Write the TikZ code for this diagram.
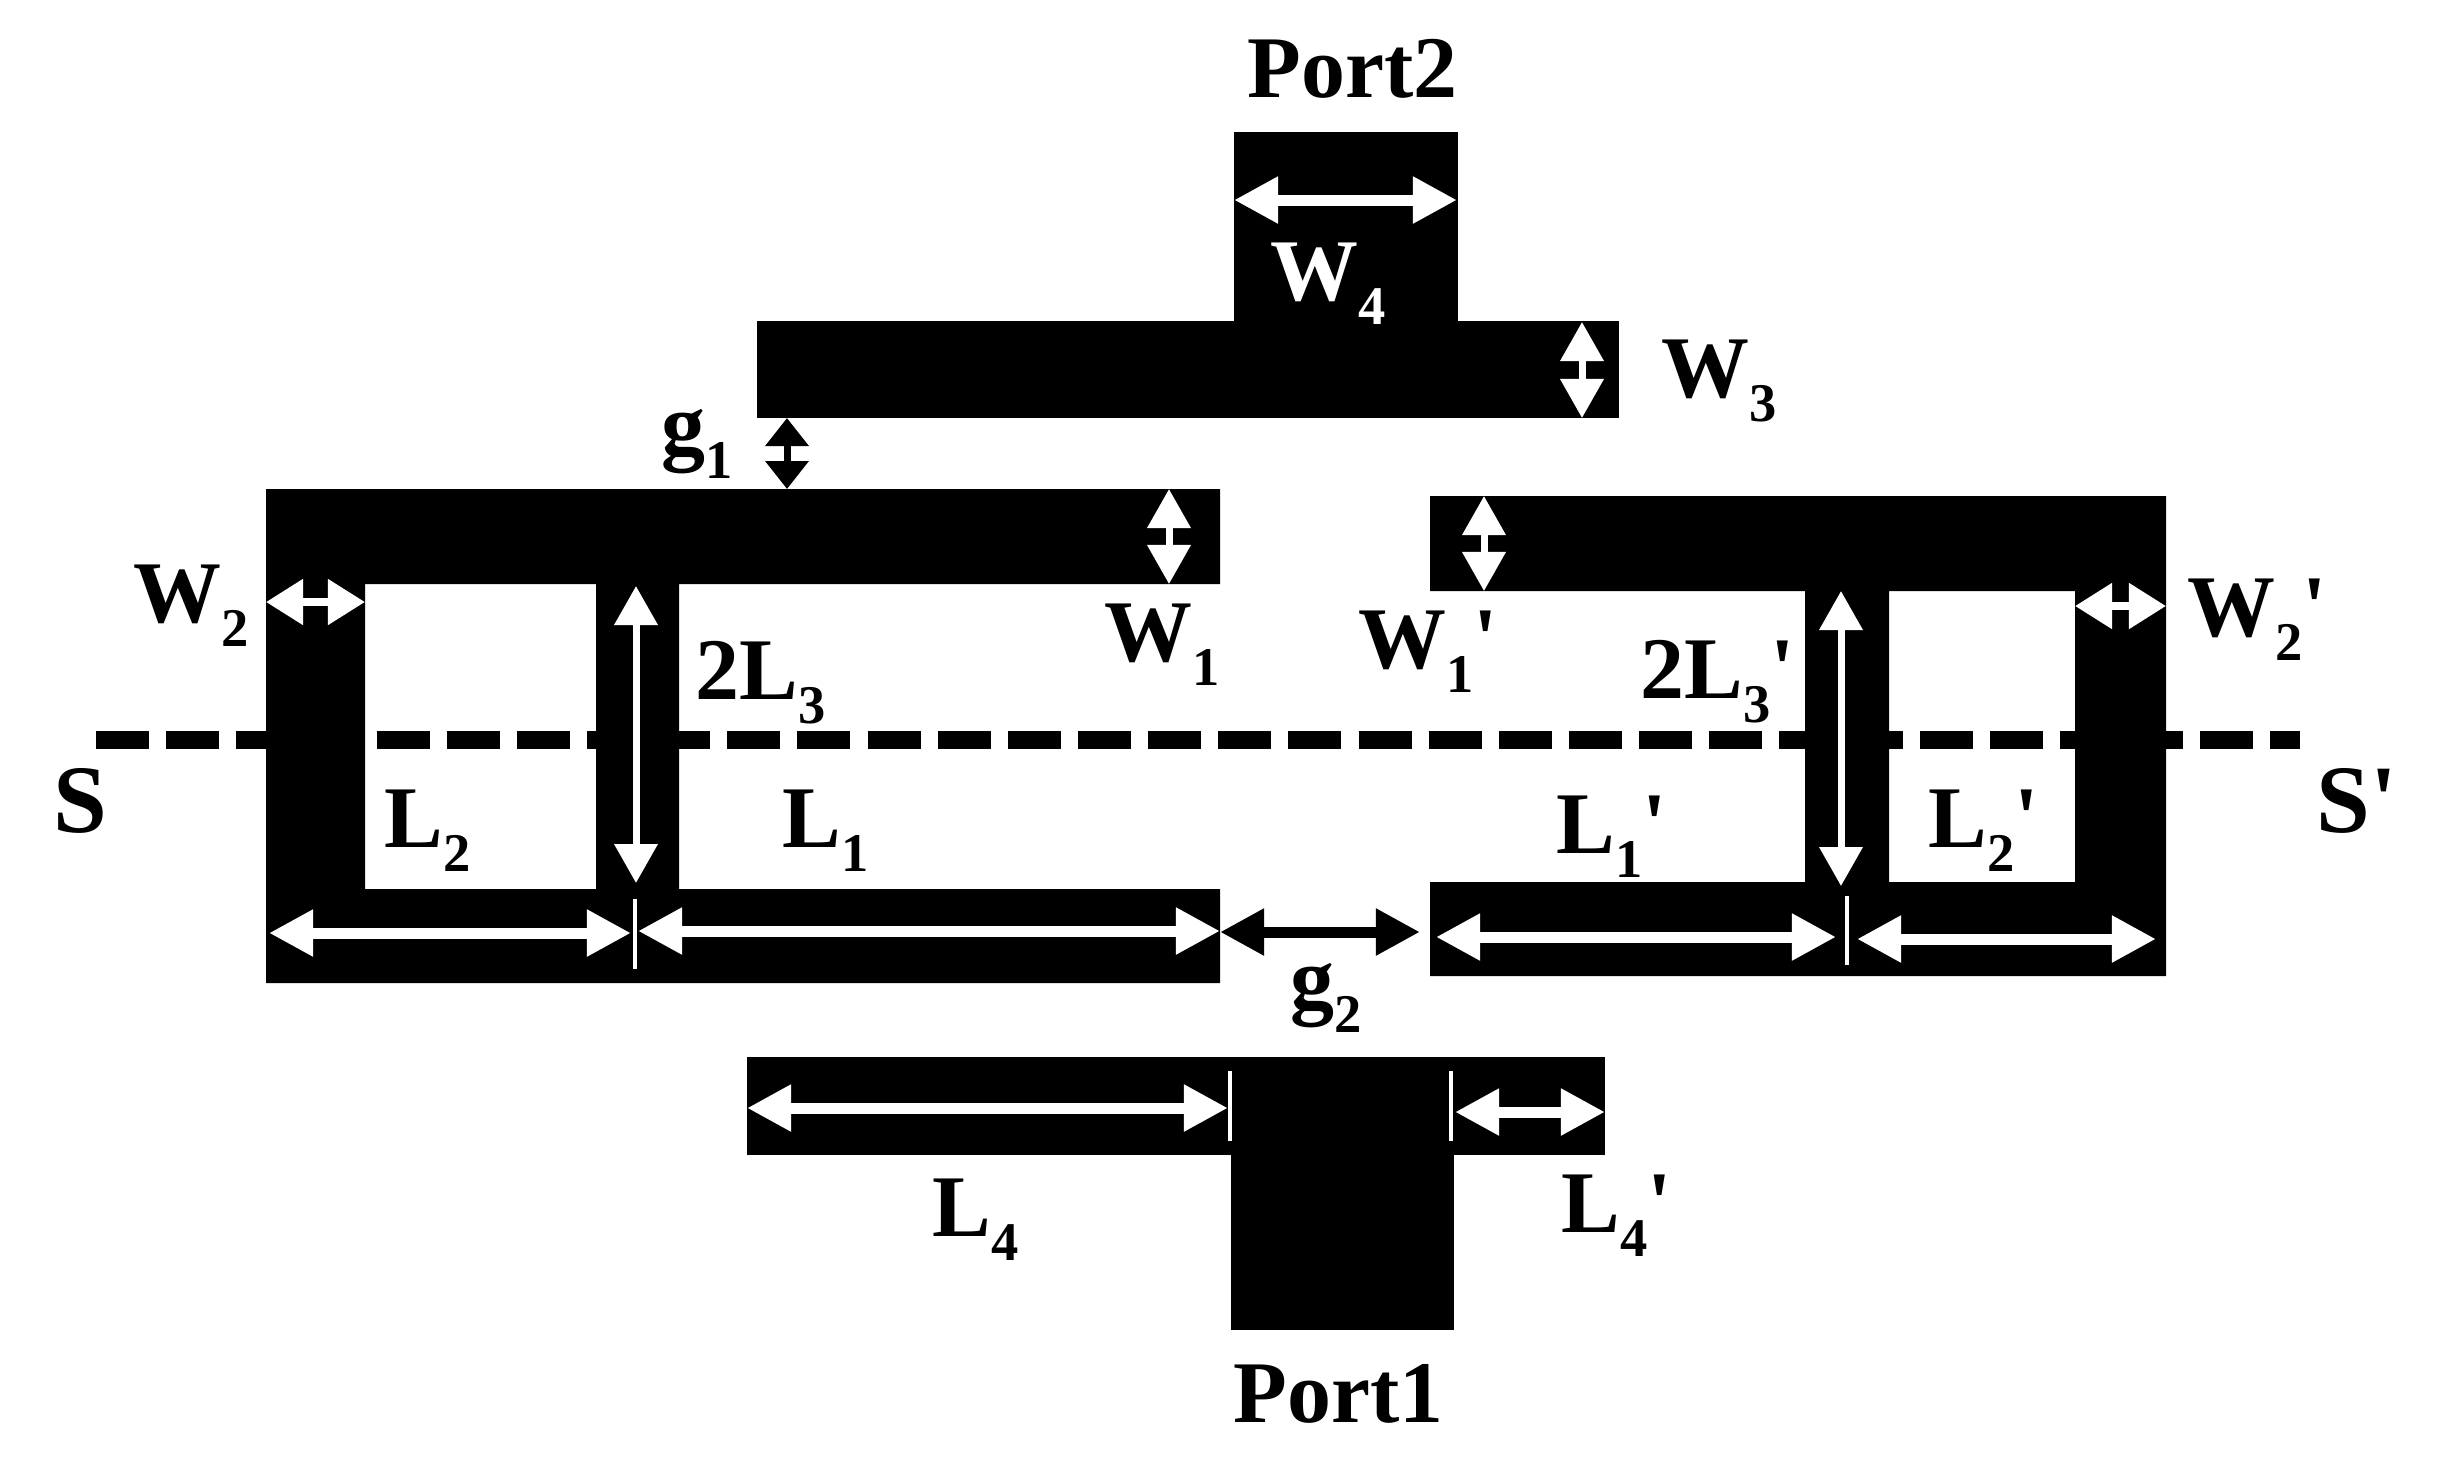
\documentclass[tikz,border=0pt]{standalone}
\usepackage{fontspec}
\setmainfont{Liberation Serif}
\newfontfamily\labfont{Liberation Serif}
\usetikzlibrary{arrows.meta}
\newcommand{\sbs}[1]{\raisebox{-.24cm}{\fontsize{15.5}{15.5}\selectfont #1}}
\tikzset{
  metal/.style={fill=black, even odd rule},
  axisline/.style={line width=.18cm, dash pattern=on .53cm off .171cm},
  dimwhite/.style={draw=white, fill=white, line width=.11cm, {Triangle[length=.44cm,width=.44cm]}-{Triangle[length=.44cm,width=.44cm]}},
  dimshort/.style={draw=white, fill=white, line width=.08cm, {Triangle[length=.37cm,width=.44cm]}-{Triangle[length=.37cm,width=.44cm]}},
  dimnarrow/.style={draw=white, fill=white, line width=.07cm, {Triangle[length=.39cm,width=.42cm]}-{Triangle[length=.39cm,width=.42cm]}},
  dimblack/.style={dimwhite, draw=black, fill=black},
  tickmark/.style={draw=white, line width=.045cm},
  dimlab/.style={anchor=base west, inner sep=0pt, xshift=-.03cm, font=\labfont\bfseries\fontsize{25}{25}\selectfont},
  biglab/.style={dimlab, font=\labfont\bfseries\fontsize{27.5}{27.5}\selectfont},
}

\begin{document}
\begin{tikzpicture}[x=.01cm,y=-.01cm]
  \useasboundingbox (0,0) rectangle (2444,1468);
  % symmetry line
  \coordinate (s1) at (96,740);
  \coordinate (s2) at (2300,740);
  \draw[axisline] (s1) -- (s2);
  % resonators
  \fill[metal] (266,489) -- (1220,489) -- (1220,584) -- (679,584) -- (679,889) -- (1220,889)
    -- (1220,983) -- (266,983) -- cycle (365,584) rectangle (596,889);
  \fill[metal] (1430,496) -- (2166,496) -- (2166,976) -- (1430,976) -- (1430,882) -- (1805,882)
    -- (1805,591) -- (1430,591) -- cycle (1889,591) rectangle (2075,882);
  % feed lines
  \fill[metal] (757,321) rectangle (1619,418);
  \fill[metal] (1234,132) rectangle (1458,321);
  \fill[metal] (747,1057) rectangle (1605,1155);
  \fill[metal] (1231,1155) rectangle (1454,1330);
  \foreach \x/\y/\lab in {
    1234/200/wfourA, 1457/200/wfourB,
    1582/322/wthreeA, 1582/418/wthreeB,
    787/418/gaA, 787/489/gaB,
    1169/489/woneA, 1169/584/woneB,
    266/602/wtwoA, 365/602/wtwoB,
    636/586/lthreeA, 636/883/lthreeB,
    269/933/ltwoA, 631/933/ltwoB,
    638/931/loneA, 1220/931/loneB,
    1220/932/gbA, 1420/932/gbB,
    1484/496/woneprA, 1484/591/woneprB,
    2075/606/wtwoprA, 2166/606/wtwoprB,
    1841/591/lthreeprA, 1841/886/lthreeprB,
    1436/937/loneprA, 1836/937/loneprB,
    1857/939/ltwoprA, 2156/939/ltwoprB,
    747/1108/lfourA, 1228/1108/lfourB,
    1455/1112/lfourprA, 1605/1112/lfourprB,
    635/899/tickaA, 635/969/tickaB,
    1847/896/tickbA, 1847/965/tickbB,
    1230/1071/tickcA, 1230/1141/tickcB,
    1451/1071/tickdA, 1451/1141/tickdB%
  } {
    \coordinate (\lab) at (\x, \y);
  }
  % dimension arrows
  \foreach \u/\v in {
    wfourA/wfourB,
    ltwoA/ltwoB,
    loneA/loneB,
    loneprA/loneprB,
    ltwoprA/ltwoprB,
    lfourA/lfourB,
    lfourprA/lfourprB%
  }{
    \draw[dimwhite] (\u) -- (\v);
  }
  \foreach \u/\v in {
    wtwoA/wtwoB,
    wtwoprA/wtwoprB%
  }{
    \draw[dimshort] (\u) -- (\v);
  }
  \foreach \u/\v in {
    wthreeA/wthreeB,
    woneA/woneB,
    lthreeA/lthreeB,
    woneprA/woneprB,
    lthreeprA/lthreeprB%
  }{
    \draw[dimnarrow] (\u) -- (\v);
  }
  \draw[dimblack] (gbA) -- (gbB);
  \draw[draw=black, fill=black, line width=.07cm, {Triangle[length=.28cm,width=.42cm]}-{Triangle[length=.28cm,width=.42cm]}] (gaA) -- (gaB);
  \foreach \u/\v in {tickaA/tickaB, tickbA/tickbB, tickcA/tickcB, tickdA/tickdB}{
    \draw[tickmark] (\u) -- (\v);
  }
  % labels
  \foreach \x/\y/\name/\lab in {
    1250/97/Port2/porttwo,
    1236/1422/Port1/portone,
    1664/397/W\sbs{3}/lwthree,
    664/454/g\sbs{1}/lga,
    136/622/W\sbs{2}/lwtwo,
    1107/661/W\sbs{1}/lwone,
    698/699/2L\sbs{3}/llthree,
    387/847/L\sbs{2}/lltwo,
    785/847/L\sbs{1}/llone,
    1361/668/W\sbs{1}'/lwonepr,
    1643/698/2L\sbs{3}'/llthreepr,
    2190/636/W\sbs{2}'/lwtwopr,
    1559/853/L\sbs{1}'/llonepr,
    1931/847/L\sbs{2}'/lltwopr,
    1293/1008/g\sbs{2}/lgb,
    935/1236/L\sbs{4}/llfour,
    1564/1232/L\sbs{4}'/llfourpr%
  } {
    \node[dimlab] (\lab) at (\x, \y) {\name};
  }
  \node[dimlab, text=white] (lwfour) at (1273,300) {W\sbs{4}};
  \node[biglab] (ls) at (56,832) {S};
  \node[biglab] (lspr) at (2319,832) {S'};
\end{tikzpicture}
\end{document}
